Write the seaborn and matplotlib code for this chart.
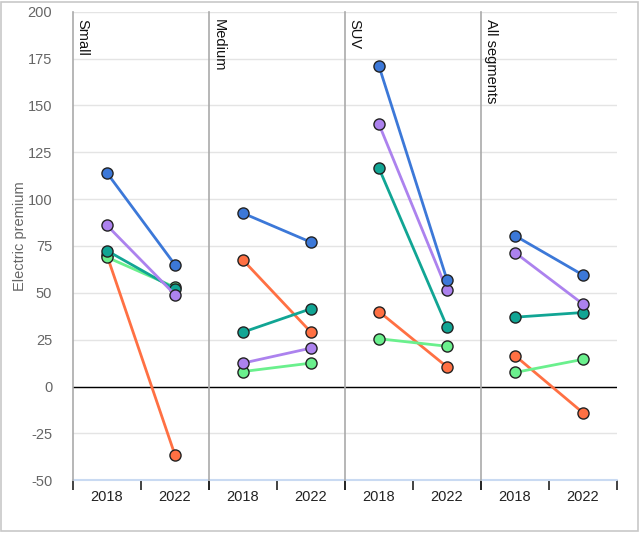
import pandas as pd
import seaborn as sns
import matplotlib.pyplot as plt
from matplotlib.patches import Rectangle

segments = ["Small", "Medium", "SUV", "All segments"]
years = ["2018", "2022"]
series = ["orange", "green", "teal", "purple", "blue"]

# values per series: [Small 2018, Small 2022, Medium 2018, Medium 2022, SUV 2018, SUV 2022, All 2018, All 2022]
blue_vals = [114, 65, 92.5, 77, 171, 57, 80.5, 59.5]
purple_vals = [86, 49, 12.5, 20.5, 140, 51.5, 71.5, 44]
teal_vals = [72.5, 52, 29, 41.5, 116.5, 32, 37, 39.5]
green_vals = [69, 53, 8, 12.5, 25.5, 21.5, 7.5, 14.5]
orange_vals = [70, -36.5, 67.5, 29, 40, 10.5, 16.5, -14]

colors = {
    "blue": "#3c78d8",
    "purple": "#ac82ee",
    "teal": "#11a594",
    "green": "#6af08d",
    "orange": "#ff7043",
}

values = {"blue": blue_vals, "purple": purple_vals, "teal": teal_vals,
          "green": green_vals, "orange": orange_vals}

rows = []
for s in series:
    for i, seg in enumerate(segments):
        for j, yr in enumerate(years):
            rows.append({"segment": seg, "year": yr, "pos": j,
                         "series": s, "value": values[s][2 * i + j]})
df = pd.DataFrame(rows)

sns.set_theme(style="white")
plt.rcParams['font.family'] = ['Liberation Sans', 'DejaVu Sans']
plt.rcParams['axes.unicode_minus'] = False

fig, axes = plt.subplots(1, 4, figsize=(6.4, 5.33), dpi=100, sharey=True)
fig.subplots_adjust(left=0.114, right=0.964, top=0.978, bottom=0.099, wspace=0)

for k, (ax, seg) in enumerate(zip(axes, segments)):
    sub = df[df["segment"] == seg]
    for y in range(-25, 201, 25):
        ax.axhline(y, color="#e4e4e4", lw=1, zorder=0)
    ax.axhline(0, color="black", lw=1, zorder=1)
    ax.axhline(-50, color="#c9daf2", lw=1.5, zorder=1, clip_on=False)
    sns.lineplot(data=sub, x="pos", y="value", hue="series", hue_order=series,
                 palette=colors, marker="o", markersize=8, markeredgecolor="#222222",
                 markeredgewidth=1, linewidth=2, legend=False, ax=ax, zorder=3)
    ax.set_xlim(-0.5, 1.5)
    ax.set_ylim(-50, 200)
    ax.set_xlabel("")
    ax.set_ylabel("")
    ax.set_xticks([-0.5, 0.5, 1.5])
    ax.set_xticklabels([])
    ax.set_xticks([0, 1], minor=True)
    ax.set_xticklabels(years, minor=True, fontsize=10.5, color="#222222")
    ax.tick_params(axis="x", which="major", length=7, width=1.2, color="#222222",
                   direction="out", bottom=True)
    ax.tick_params(axis="x", which="minor", length=0, pad=7, bottom=True)
    for side in ["top", "right", "bottom"]:
        ax.spines[side].set_visible(False)
    ax.spines["left"].set_color("#aaaaaa")
    ax.spines["left"].set_linewidth(1.2)
    ax.text(0.02, 0.985, seg, rotation=-90, ha="left", va="top",
            transform=ax.transAxes, fontsize=10.5, color="#111111")
    if k > 0:
        ax.tick_params(axis="y", left=False)

axes[0].set_yticks(range(-50, 201, 25))
axes[0].tick_params(axis="y", length=0, labelsize=10.5, labelcolor="#666666", pad=15)
axes[0].set_ylabel("Electric premium", color="#666666", fontsize=10.5)
axes[0].yaxis.set_label_coords(-0.34, 0.52)

fig.patches.append(Rectangle((0.002, 0.003), 0.995, 0.994, transform=fig.transFigure,
                             fill=False, edgecolor="#c8c8c8", lw=1.2))

fig.savefig("out.png", dpi=100)
